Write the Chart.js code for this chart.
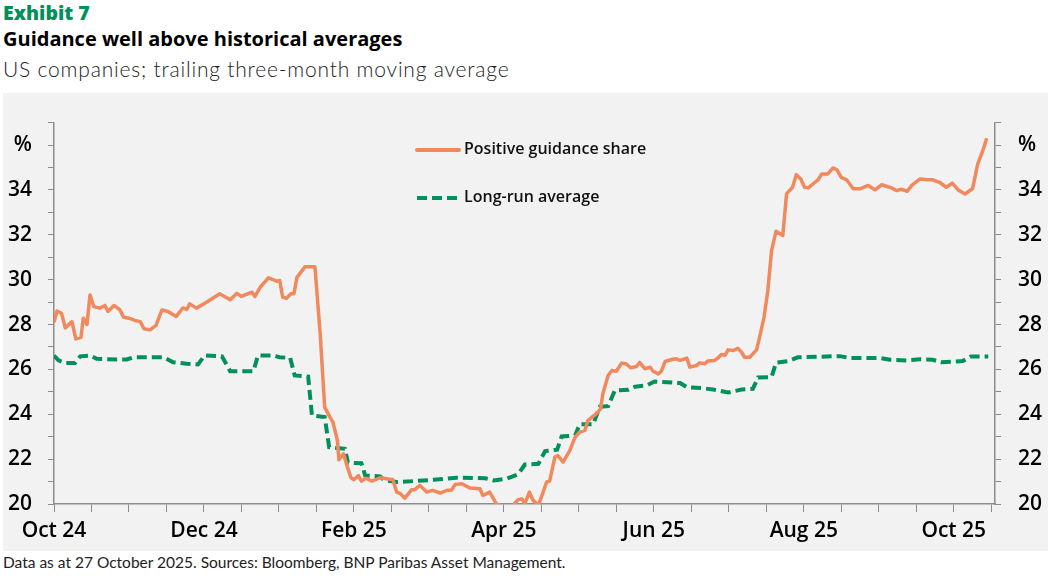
<!DOCTYPE html>
<html>
<head>
<meta charset="utf-8">
<script src="https://cdn.jsdelivr.net/npm/chart.js@4.4.1/dist/chart.umd.min.js"></script>
<style>
  body { margin: 0; width: 1051px; height: 576px; background: #fff; position: relative; overflow: hidden; font-family: "Open Sans", sans-serif; }
  .t { position: absolute; left: 3px; white-space: nowrap; }
  #exhibit { top: -1px; font-size: 19.5px; font-weight: 800; color: #00915a; }
  #title { top: 25px; font-size: 20px; font-weight: 700; color: #000; }
  #subtitle { top: 56px; font-size: 21px; font-weight: 300; letter-spacing: 0.8px; color: #222; font-family: Lato, sans-serif; }
  #note { top: 553px; font-size: 15.5px; color: #222; font-family: Lato, sans-serif; }
  #panel { position: absolute; left: 3px; top: 93px; width: 1045px; height: 458px; background: #f2f2f2; }
  .leg { position: absolute; font-size: 16px; font-weight: 600; color: #111; white-space: nowrap; font-family: "Open Sans", sans-serif; }
</style>
</head>
<body>
<div class="t" id="exhibit">Exhibit 7</div>
<div class="t" id="title">Guidance well above historical averages</div>
<div class="t" id="subtitle">US companies; trailing three-month moving average</div>
<div id="panel"><canvas id="chart"></canvas></div>
<svg style="position:absolute;left:414px;top:140px" width="50" height="70">
  <line x1="3" y1="10" x2="45" y2="10" stroke="#f1895c" stroke-width="4" stroke-linecap="round"/>
  <line x1="3" y1="58" x2="45" y2="58" stroke="#00915a" stroke-width="4" stroke-dasharray="10,5"/>
</svg>
<div class="leg" style="left:464px;top:137px">Positive guidance share</div>
<div class="leg" style="left:464px;top:185px">Long-run average</div>
<div class="t" id="note">Data as at 27 October 2025. Sources: Bloomberg, BNP Paribas Asset Management.</div>
<script>
// x = months since start of Oct 2024
var guidanceMonths = [0.00,0.04,0.10,0.15,0.24,0.29,0.36,0.39,0.44,0.48,0.53,0.61,0.68,0.72,0.80,0.88,0.93,1.00,1.08,1.15,1.20,1.28,1.36,1.44,1.52,1.63,1.72,1.77,1.81,1.90,2.04,2.21,2.35,2.44,2.50,2.64,2.68,2.75,2.86,2.97,3.01,3.05,3.10,3.16,3.20,3.24,3.35,3.48,3.55,3.61,3.68,3.72,3.78,3.80,3.86,3.90,3.96,4.00,4.06,4.10,4.16,4.24,4.35,4.52,4.57,4.62,4.68,4.77,4.81,4.88,4.97,5.05,5.15,5.24,5.30,5.35,5.44,5.55,5.68,5.72,5.81,5.90,5.97,6.11,6.19,6.24,6.28,6.34,6.39,6.46,6.50,6.57,6.61,6.68,6.72,6.79,6.88,6.95,7.01,7.08,7.12,7.24,7.29,7.32,7.39,7.44,7.50,7.57,7.63,7.69,7.77,7.81,7.88,7.95,7.99,8.06,8.10,8.15,8.24,8.30,8.35,8.44,8.48,8.57,8.61,8.68,8.72,8.81,8.86,8.90,8.95,8.99,9.06,9.12,9.17,9.21,9.28,9.32,9.37,9.41,9.47,9.52,9.57,9.63,9.72,9.77,9.85,9.90,9.96,10.01,10.06,10.15,10.19,10.24,10.32,10.39,10.44,10.50,10.57,10.66,10.75,10.86,10.95,11.04,11.17,11.24,11.30,11.38,11.44,11.55,11.64,11.72,11.81,11.90,11.98,12.06,12.15,12.25,12.32,12.38,12.44];
var guidanceShare = [28.1,28.6,28.5,27.85,28.13,27.36,27.43,28.28,28.0,29.32,28.8,28.73,28.85,28.58,28.85,28.65,28.32,28.28,28.18,28.13,27.81,27.76,27.96,28.65,28.58,28.36,28.74,28.67,28.92,28.73,29.0,29.37,29.1,29.39,29.25,29.44,29.25,29.66,30.08,29.93,29.96,29.22,29.17,29.37,29.37,30.1,30.58,30.58,27.59,24.32,23.87,23.65,22.83,21.97,22.24,21.79,21.17,21.08,21.27,21.02,21.15,21.02,21.17,21.08,20.53,20.46,20.26,20.64,20.64,20.83,20.53,20.61,20.49,20.61,20.61,20.87,20.9,20.71,20.68,20.38,20.53,20.01,19.9,19.9,20.19,20.23,20.01,20.53,20.16,19.95,20.31,20.98,21.02,22.09,22.16,21.87,22.39,22.98,23.2,23.28,23.72,24.05,24.24,24.91,25.73,25.95,25.92,26.28,26.25,26.07,26.13,26.31,26.03,26.1,25.92,25.8,25.92,26.35,26.44,26.47,26.4,26.5,26.1,26.17,26.29,26.25,26.37,26.4,26.52,26.66,26.63,26.87,26.84,26.94,26.77,26.54,26.54,26.69,26.87,27.43,28.33,29.51,31.3,32.16,31.97,33.82,34.12,34.68,34.49,34.12,34.09,34.34,34.45,34.71,34.71,34.98,34.9,34.56,34.45,34.05,34.05,34.2,34.0,34.23,34.09,33.97,34.03,33.94,34.2,34.49,34.45,34.45,34.34,34.12,34.3,34.0,33.82,34.05,35.16,35.68,36.3];
var averageMonths = [0.00,0.06,0.15,0.28,0.35,0.48,0.57,0.84,0.97,1.06,1.46,1.59,1.77,1.92,2.01,2.24,2.35,2.66,2.72,2.92,3.01,3.15,3.21,3.39,3.44,3.61,3.67,3.88,3.92,4.10,4.15,4.35,4.41,4.57,4.79,5.06,5.37,5.75,5.86,6.04,6.19,6.28,6.46,6.55,6.71,6.77,6.95,7.01,7.19,7.28,7.39,7.48,7.66,7.75,7.90,8.01,8.35,8.44,8.66,8.79,8.99,9.17,9.32,9.39,9.57,9.63,9.79,9.92,10.48,10.61,11.01,11.15,11.37,11.55,11.72,11.83,12.12,12.23,12.46];
var longRunAverage = [26.62,26.4,26.28,26.28,26.58,26.62,26.47,26.44,26.44,26.54,26.54,26.32,26.25,26.22,26.62,26.58,25.92,25.92,26.62,26.62,26.54,26.51,25.73,25.68,23.95,23.88,22.53,22.46,21.84,21.82,21.27,21.23,21.05,20.98,21.02,21.08,21.17,21.15,21.05,21.13,21.32,21.76,21.79,22.36,22.42,23.01,23.05,23.55,23.55,24.34,24.36,25.06,25.09,25.23,25.28,25.46,25.39,25.21,25.16,25.1,24.97,25.1,25.13,25.64,25.66,26.3,26.37,26.54,26.59,26.51,26.51,26.43,26.4,26.45,26.43,26.32,26.37,26.58,26.58];
var monthTicks = [0, 2, 4, 6, 8, 10, 12];
var monthLabels = ["Oct 24", "Dec 24", "Feb 25", "Apr 25", "Jun 25", "Aug 25", "Oct 25"];
var yTickValues = [20, 22, 24, 26, 28, 30, 32, 34, 36];
var yTickLabels = ["20", "22", "24", "26", "28", "30", "32", "34", "%"];

function pairUp(xs, ys) {
  return xs.map(function (x, i) { return { x: x, y: ys[i] }; });
}

var tickFont = { family: "Open Sans", size: 21, weight: "600" };
var axisGrey = "#8c8c8c";

function yLabel(value) {
  var i = yTickValues.indexOf(value);
  return i >= 0 ? yTickLabels[i] : "";
}
function yTicks(scale) {
  var t = [];
  for (var v = 20; v <= 37; v++) t.push({ value: v });
  scale.ticks = t;
}
var yGrid = { drawOnChartArea: false, tickLength: 6, color: axisGrey, lineWidth: 1 };

var config = {
  type: "line",
  data: {
    datasets: [
      {
        label: "Positive guidance share",
        data: pairUp(guidanceMonths, guidanceShare),
        borderColor: "#f1895c",
        borderWidth: 3.5,
        pointRadius: 0,
        tension: 0,
        borderJoinStyle: "round",
      },
      {
        label: "Long-run average",
        data: pairUp(averageMonths, longRunAverage),
        borderColor: "#00915a",
        borderWidth: 4,
        borderDash: [10, 5],
        pointRadius: 0,
        tension: 0,
      },
    ],
  },
  options: {
    responsive: true,
    maintainAspectRatio: false,
    animation: false,
    layout: { padding: { top: 29 } },
    plugins: { legend: { display: false }, tooltip: { enabled: false } },
    scales: {
      x: {
        type: "linear",
        min: 0,
        max: 12.55,
        afterBuildTicks: function (scale) {
          var t = [];
          for (var i = 0; i <= 25; i++) t.push({ value: i * 0.5 });
          scale.ticks = t;
        },
        afterFit: function (scale) { scale.height = 47; },
        ticks: {
          autoSkip: false,
          maxRotation: 0,
          padding: 6,
          color: "#000",
          font: tickFont,
          callback: function (value) {
            var i = monthTicks.indexOf(value);
            return i >= 0 ? monthLabels[i] : "";
          },
        },
        grid: { drawOnChartArea: false, tickLength: 8, color: axisGrey, lineWidth: 1 },
        border: { color: axisGrey, width: 1.5 },
      },
      y: {
        position: "left",
        min: 20,
        max: 37,
        afterBuildTicks: yTicks,
        afterFit: function (scale) { scale.width = 51; },
        ticks: { autoSkip: false, padding: 16, color: "#000", font: tickFont, callback: yLabel },
        grid: yGrid,
        border: { color: axisGrey, width: 1.5 },
      },
      y2: {
        position: "right",
        min: 20,
        max: 37,
        afterBuildTicks: yTicks,
        afterFit: function (scale) { scale.width = 53; },
        ticks: { autoSkip: false, padding: 17, color: "#000", font: tickFont, callback: yLabel },
        grid: yGrid,
        border: { color: axisGrey, width: 1.5 },
      },
    },
  },
};
var guidanceChart = new Chart(document.getElementById("chart"), config);
</script>
</body>
</html>
